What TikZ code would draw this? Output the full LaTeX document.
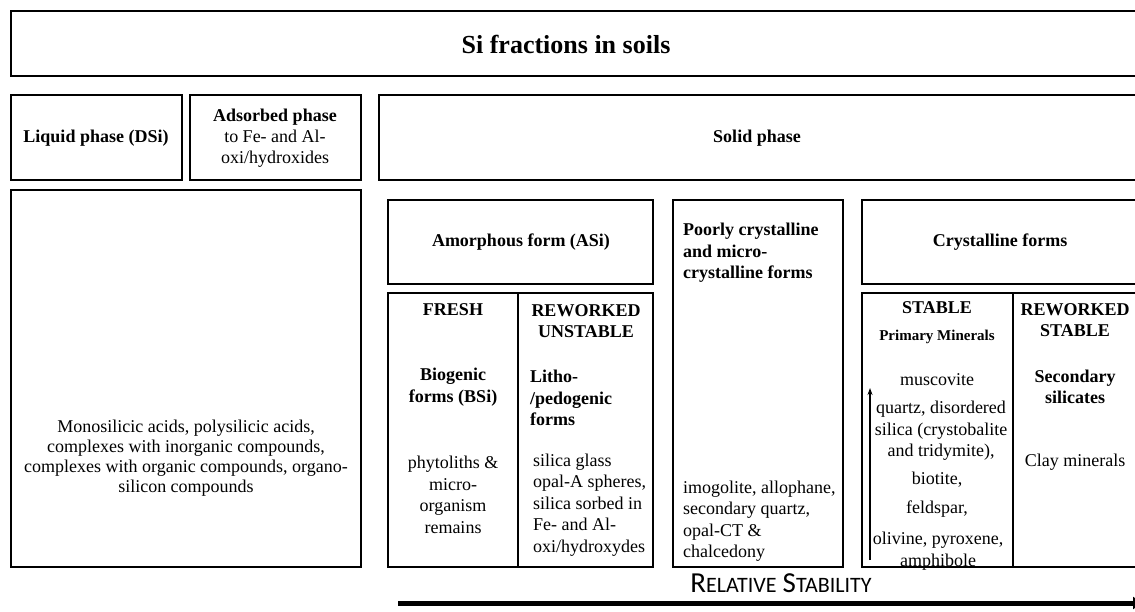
\documentclass[tikz,border=0pt]{standalone}
\usepackage{fontspec}
\setmainfont{Liberation Serif}
\newfontfamily\capfont{Carlito}
\usetikzlibrary{arrows.meta, positioning}

\tikzset{
    box/.style={draw, line width=1.6pt, inner sep=0pt, outer sep=0pt, anchor=north west},
    head/.style={font=\bfseries\fontsize{18}{21.5}\selectfont, align=center, inner sep=0pt},
    body/.style={font=\fontsize{18}{21.5}\selectfont, align=center, inner sep=0pt},
    leftbody/.style={body, align=left},
    lefthead/.style={head, align=left},
}

\begin{document}
\begin{tikzpicture}[x=1pt, y=-1pt]
    \clip (0,0) rectangle (1135,611);
    % frames
    \node[box, minimum width=1139pt, minimum height=65pt] (fractions) at (11,11) {};
    \node[box, minimum width=171pt, minimum height=85pt] (liquid) at (11,95) {};
    \node[box, minimum width=171pt, minimum height=85pt] (adsorbed) at (190,95) {};
    \node[box, minimum width=771pt, minimum height=85pt] (solid) at (379,95) {};
    \node[box, minimum width=350pt, minimum height=377pt] (dissolved) at (11,190) {};
    \node[box, minimum width=265pt, minimum height=84pt] (amorphous) at (388,200) {};
    \node[box, minimum width=130pt, minimum height=274pt] (fresh) at (388,293) {};
    \node[box, minimum width=135pt, minimum height=274pt] (unstable) at (518,293) {};
    \node[box, minimum width=170pt, minimum height=367pt] (poorly) at (673,200) {};
    \node[box, minimum width=288pt, minimum height=84pt] (crystalline) at (862,200) {};
    \node[box, minimum width=151pt, minimum height=274pt] (stable) at (862,293) {};
    \node[box, minimum width=137pt, minimum height=274pt] (restable) at (1013,293) {};

    % headings of the upper rows
    \node[head, font=\bfseries\fontsize{26}{28}\selectfont] (fractionstext) at (566,44) {Si fractions in soils};
    \node[head] (liquidtext) at (96,138) {Liquid phase (DSi)};
    \node[body, font=\fontsize{18}{21}\selectfont] (adsorbedtext) at (275,138) {\textbf{Adsorbed phase}\\to Fe- and Al-\\oxi/hydroxides};
    \node[head] (solidtext) at (757,138) {Solid phase};
    \node[body, font=\fontsize{18}{20}\selectfont] (dissolvedtext) at (186,458)
        {Monosilicic acids, polysilicic acids,\\complexes with inorganic compounds,\\complexes with organic compounds, organo-\\silicon compounds};

    % amorphous forms
    \node[head] (amorphoustext) at (521,242) {Amorphous form (ASi)};
    \node[head] (freshtext) at (453,310) {FRESH};
    \node[head] (unstabletext) at (586,321) {REWORKED\\UNSTABLE};
    \node[head] (biogenic) at (453,387) {Biogenic\\forms (BSi)};
    \node[lefthead, anchor=west] (litho) at (530,398) {Litho-\\/pedogenic\\forms};
    \node[body] (phytoliths) at (453,495) {phytoliths \&\\micro-\\organism\\remains};
    \node[leftbody, anchor=west] (glass) at (533,505) {silica glass\\opal-A spheres,\\silica sorbed in\\Fe- and Al-\\oxi/hydroxydes};

    % poorly crystalline forms
    \node[lefthead, anchor=west] (poorlytext) at (683,253) {Poorly crystalline\\and micro-\\crystalline forms};
    \node[leftbody, anchor=west] (imogolite) at (683,521) {imogolite, allophane,\\secondary quartz,\\opal-CT \&\\chalcedony};

    % crystalline forms
    \node[head] (crystallinetext) at (1000,242) {Crystalline forms};
    \node[head] (stabletext) at (937,308) {STABLE};
    \node[head, font=\bfseries\fontsize{15}{17}\selectfont] (primary) at (937,337) {Primary Minerals};
    \node[body] (muscovite) at (937,380) {muscovite};
    \node[body] (quartz) at (941,431) {quartz, disordered\\silica (crystobalite\\and tridymite),};
    \node[body] (biotite) at (937,480) {biotite,};
    \node[body] (feldspar) at (937,509) {feldspar,};
    \node[body] (olivine) at (938,551) {olivine, pyroxene,\\amphibole};
    \node[head] (restabletext) at (1075,320) {REWORKED\\STABLE};
    \node[head] (secondary) at (1075,387) {Secondary\\silicates};
    \node[body] (clay) at (1075,462) {Clay minerals};

    % stability arrows
    \coordinate (weathertail) at (870,560);
    \coordinate (weatherhead) at (870,388);
    \draw[-{Stealth[length=7pt, width=5pt]}, line width=1.4pt] (weathertail) -- (weatherhead);
    \node[inner sep=0pt, font=\capfont] (stability) at (781,583)
        {{\fontsize{29}{29}\selectfont R}{\fontsize{22}{22}\selectfont ELATIVE}\hspace{6pt}{\fontsize{29}{29}\selectfont S}{\fontsize{22}{22}\selectfont TABILITY}};
    \coordinate (stabletail) at (398,603);
    \coordinate (stablehead) at (1142,603);
    \draw[-{Triangle[length=9pt, width=12pt]}, line width=5pt] (stabletail) -- (stablehead);
\end{tikzpicture}
\end{document}
